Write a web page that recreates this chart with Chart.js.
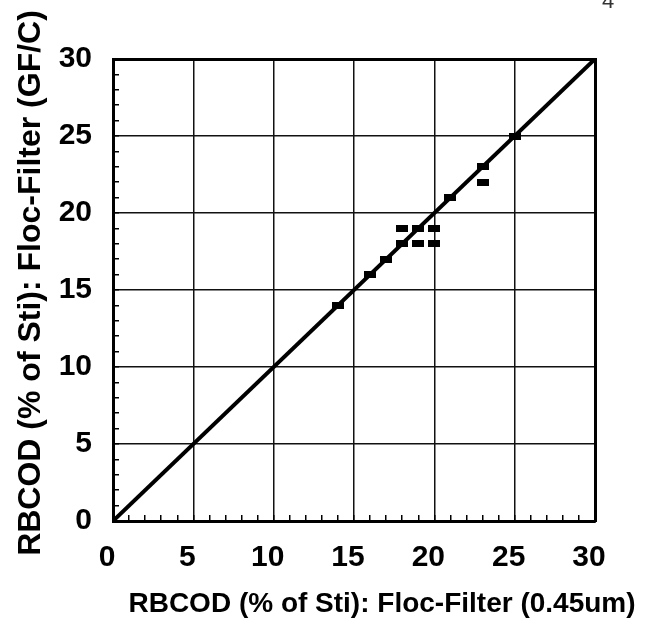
<!DOCTYPE html>
<html>
<head>
<meta charset="utf-8">
<script src="https://cdn.jsdelivr.net/npm/chart.js@4"></script>
<style>
  html, body { margin:0; padding:0; background:#fff; }
  #wrap { width:652px; height:621px; }
</style>
</head>
<body>
<div id="wrap"><canvas id="c" width="652" height="621"></canvas></div>
<script>
/* RBCOD: GF/C floc-filter vs 0.45um floc-filter, with 1:1 line */

const ptsX = [14, 16, 17, 18, 18, 19, 19, 20, 20, 21, 23, 23, 25];
const ptsY = [14, 16, 17, 18, 19, 18, 19, 18, 19, 21, 23, 22, 25];
const lineX = [0, 30];
const lineY = [0, 30];
const axisMin = 0, axisMax = 30, majorStep = 5, minorStep = 1;
const xTitle = 'RBCOD (% of Sti): Floc-Filter (0.45um)';
const yTitle = 'RBCOD (% of Sti): Floc-Filter (GF/C)';
const pageMark = '4';

const FONT = "'Liberation Sans', Arial, sans-serif";

// small wide rectangle marker
const marker = document.createElement('canvas');
marker.width = 12; marker.height = 7;
(function(){ const m = marker.getContext('2d'); m.fillStyle = '#000'; m.fillRect(0,0,12,7); })();

const pairs = (xs, ys) => xs.map((x,i)=>({x, y:ys[i]}));

const isMajor = c => c.tick && c.tick.value % majorStep === 0;

function mainScale(extra){
  return Object.assign({
    min:axisMin, max:axisMax,
    grid:{
      color: c => isMajor(c) ? '#111' : 'rgba(0,0,0,0)',
      lineWidth:1.5,
      tickColor:'#000', tickWidth:1.5, tickLength:-6, drawTicks:true
    },
    border:{display:true, color:'#000', width:3},
    ticks:{
      stepSize:minorStep, autoSkip:false, maxRotation:0,
      color:'#000', font:{family:FONT, size:30, weight:'bold'},
      callback: v => v % majorStep === 0 ? v : ''
    }
  }, extra);
}

function frameScale(pos){
  return {
    position:pos, min:axisMin, max:axisMax,
    grid:{drawOnChartArea:false, drawTicks:false},
    border:{display:true, color:'#000', width:3},
    ticks:{display:false},
    afterFit: s => { if(pos==='top') s.height = 0; else s.width = 0; }
  };
}

const titles = {
  id:'titles',
  afterDraw(chart){
    const {ctx, chartArea:a} = chart;
    ctx.save();
    ctx.fillStyle = '#000';
    ctx.font = 'bold 28px ' + FONT;
    ctx.textAlign = 'center';
    ctx.textBaseline = 'alphabetic';
    ctx.fillText(xTitle, a.left + 269, a.bottom + 91);

    ctx.translate(40, (a.top + a.bottom)/2 - 7);
    ctx.rotate(-Math.PI/2);
    ctx.font = 'bold 32px ' + FONT;
    ctx.fillText(yTitle, 0, 0);
    ctx.restore();

    ctx.save();
    ctx.fillStyle = '#333';
    ctx.font = '22px ' + FONT;
    ctx.textAlign = 'left';
    ctx.fillText(pageMark, 602, 8);
    ctx.restore();
  }
};

new Chart(document.getElementById('c'), {
  type:'scatter',
  data:{
    datasets:[
      {
        label:'1:1',
        data:pairs(lineX, lineY),
        showLine:true,
        borderColor:'#000', borderWidth:4,
        pointRadius:0,
        order:1
      },
      {
        label:'data',
        data:pairs(ptsX, ptsY),
        pointStyle:marker,
        pointRadius:6,
        backgroundColor:'#000', borderColor:'#000',
        order:2
      }
    ]
  },
  options:{
    responsive:false,
    animation:false,
    devicePixelRatio:1,
    layout:{padding:{left:0, top:59, right:57, bottom:0}},
    plugins:{legend:{display:false}, tooltip:{enabled:false}},
    scales:{
      x: mainScale({
        position:'bottom', weight:1,
        ticks:Object.assign(mainScale().ticks, {padding:25, labelOffset:-6}),
        afterFit: s => { s.height = 100; }
      }),
      y: mainScale({
        position:'left', weight:1,
        ticks:Object.assign(mainScale().ticks, {padding:27}),
        afterFit: s => { s.width = 113; }
      }),
      xTop: frameScale('top'),
      yRight: frameScale('right')
    }
  },
  plugins:[titles]
});
</script>
</body>
</html>
